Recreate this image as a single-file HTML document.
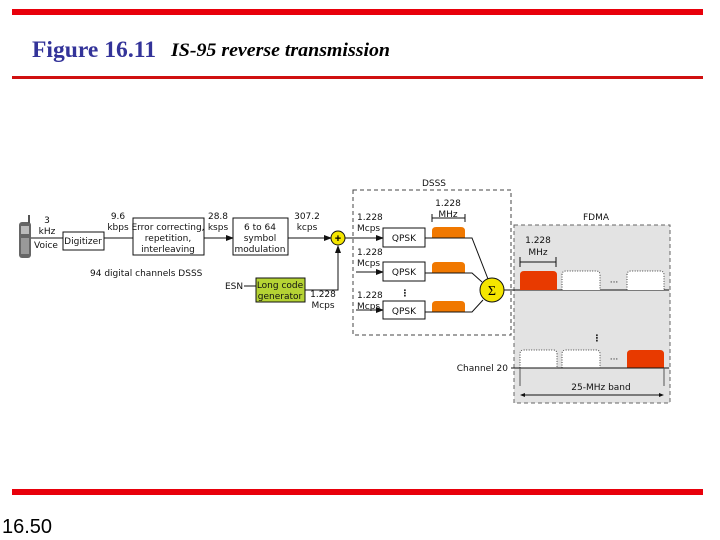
<!DOCTYPE html>
<html><head><meta charset="utf-8"><style>
html,body{margin:0;padding:0;background:#fff;width:720px;height:540px;overflow:hidden}
svg{display:block}
.t{font-family:"DejaVu Sans","Liberation Sans",sans-serif;font-size:9px;fill:#111}
</style></head><body>
<svg width="720" height="540" viewBox="0 0 720 540" xmlns="http://www.w3.org/2000/svg">
<defs><marker id="a" markerWidth="8" markerHeight="6" refX="7" refY="3" orient="auto"><path d="M0,0L8,3L0,6z" fill="#111"/></marker></defs>
<rect x="12" y="9" width="691" height="6" fill="#e8000b"/>
<rect x="12" y="76" width="691" height="3" fill="#d01010"/>
<rect x="12" y="489" width="691" height="6" fill="#e8000b"/>
<text x="32" y="57" font-family="Liberation Serif,serif" font-size="23" font-weight="bold" fill="#333399" textLength="124" lengthAdjust="spacingAndGlyphs">Figure 16.11</text>
<text x="171" y="56" font-family="Liberation Serif,serif" font-size="19" font-style="italic" font-weight="bold" fill="#000" textLength="219" lengthAdjust="spacingAndGlyphs">IS-95 reverse transmission</text>
<text x="2" y="533" font-family="Liberation Sans,sans-serif" font-size="20" fill="#000">16.50</text>

<rect x="514" y="225" width="156" height="178" fill="#e3e3e3" stroke="#666" stroke-dasharray="4,3"/>
<rect x="353" y="190" width="158" height="145" fill="none" stroke="#444" stroke-dasharray="4,3"/>
<text class="t" x="434" y="186" text-anchor="middle">DSSS</text>
<text class="t" x="596" y="220" text-anchor="middle" font-size="10">FDMA</text>

<rect x="19" y="222" width="12" height="36" rx="3" fill="#666"/>
<rect x="21" y="226" width="8" height="8" fill="#bbb"/>
<rect x="21" y="238" width="8" height="16" fill="#999"/>
<rect x="28" y="215" width="2" height="8" fill="#555"/>
<line x1="31" y1="238" x2="63" y2="238" stroke="#111"/>
<text class="t" x="47" y="223" text-anchor="middle">3</text>
<text class="t" x="47" y="234" text-anchor="middle">kHz</text>
<text class="t" x="46" y="248" text-anchor="middle">Voice</text>
<rect x="63" y="232" width="41" height="18" fill="#fff" stroke="#111"/>
<text class="t" x="83" y="244" text-anchor="middle">Digitizer</text>
<line x1="104" y1="238" x2="133" y2="238" stroke="#111"/>
<text class="t" x="118" y="219" text-anchor="middle">9.6</text>
<text class="t" x="118" y="230" text-anchor="middle">kbps</text>
<rect x="133" y="218" width="71" height="37" fill="#fff" stroke="#111"/>
<text class="t" x="168" y="230" text-anchor="middle">Error correcting,</text>
<text class="t" x="168" y="241" text-anchor="middle">repetition,</text>
<text class="t" x="168" y="252" text-anchor="middle">interleaving</text>
<line x1="204" y1="238" x2="233" y2="238" stroke="#111" marker-end="url(#a)"/>
<text class="t" x="218" y="219" text-anchor="middle">28.8</text>
<text class="t" x="218" y="230" text-anchor="middle">ksps</text>
<rect x="233" y="218" width="55" height="37" fill="#fff" stroke="#111"/>
<text class="t" x="260" y="230" text-anchor="middle">6 to 64</text>
<text class="t" x="260" y="241" text-anchor="middle">symbol</text>
<text class="t" x="260" y="252" text-anchor="middle">modulation</text>
<line x1="288" y1="238" x2="331" y2="238" stroke="#111" marker-end="url(#a)"/>
<text class="t" x="307" y="219" text-anchor="middle">307.2</text>
<text class="t" x="307" y="230" text-anchor="middle">kcps</text>
<circle cx="338" cy="238" r="7" fill="#f5e600" stroke="#111"/>
<text x="338" y="242" text-anchor="middle" font-family="Liberation Sans,sans-serif" font-size="11" font-weight="bold">+</text>
<text class="t" x="90" y="276">94 digital channels DSSS</text>
<text class="t" x="225" y="289">ESN</text>
<line x1="244" y1="286" x2="256" y2="286" stroke="#111"/>
<rect x="256" y="278" width="49" height="24" fill="#b5d334" stroke="#111"/>
<text class="t" x="280" y="288" text-anchor="middle">Long code</text>
<text class="t" x="280" y="299" text-anchor="middle">generator</text>
<polyline points="305,290 338,290 338,246" fill="none" stroke="#111" marker-end="url(#a)"/>
<text class="t" x="323" y="297" text-anchor="middle">1.228</text>
<text class="t" x="323" y="308" text-anchor="middle">Mcps</text>

<line x1="345" y1="238" x2="383" y2="238" stroke="#111" marker-end="url(#a)"/>
<line x1="356" y1="272" x2="383" y2="272" stroke="#111" marker-end="url(#a)"/>
<line x1="356" y1="310" x2="383" y2="310" stroke="#111" marker-end="url(#a)"/>
<text class="t" x="357" y="220">1.228</text><text class="t" x="357" y="231">Mcps</text>
<text class="t" x="357" y="255">1.228</text><text class="t" x="357" y="266">Mcps</text>
<text class="t" x="357" y="298">1.228</text><text class="t" x="357" y="309">Mcps</text>
<rect x="383" y="228" width="42" height="19" fill="#fff" stroke="#111"/>
<rect x="383" y="262" width="42" height="19" fill="#fff" stroke="#111"/>
<rect x="383" y="301" width="42" height="18" fill="#fff" stroke="#111"/>
<text class="t" x="404" y="241" text-anchor="middle">QPSK</text>
<text class="t" x="404" y="275" text-anchor="middle">QPSK</text>
<text class="t" x="404" y="314" text-anchor="middle">QPSK</text>
<text class="t" x="405" y="296" text-anchor="middle" font-weight="bold">⋮</text>
<g fill="#f07800">
<path d="M432,238V231Q432,227 436,227H461Q465,227 465,231V238Z"/>
<path d="M432,273V266Q432,262 436,262H461Q465,262 465,266V273Z"/>
<path d="M432,312V305Q432,301 436,301H461Q465,301 465,305V312Z"/>
</g>
<g stroke="#111" fill="none">
<polyline points="425,238 472,238 488,279"/>
<polyline points="425,273 472,273 482,282"/>
<polyline points="425,312 472,312 483,300"/>
<line x1="432" y1="218" x2="465" y2="218"/><line x1="432" y1="214" x2="432" y2="222"/><line x1="465" y1="214" x2="465" y2="222"/>
</g>
<text class="t" x="448" y="206" text-anchor="middle">1.228</text>
<text class="t" x="448" y="217" text-anchor="middle">MHz</text>
<circle cx="492" cy="290" r="12" fill="#f5e600" stroke="#111"/>
<text x="492" y="295" text-anchor="middle" font-family="Liberation Serif,serif" font-size="14">Σ</text>
<line x1="504" y1="290" x2="669" y2="290" stroke="#111"/>

<path d="M520,290V275Q520,271 524,271H553Q557,271 557,275V290Z" fill="#e83a00"/>
<path d="M562,290V275Q562,271 566,271H596Q600,271 600,275V290" fill="#fff" stroke="#444" stroke-dasharray="1,1.5"/>
<path d="M627,290V275Q627,271 631,271H660Q664,271 664,275V290" fill="#fff" stroke="#444" stroke-dasharray="1,1.5"/>
<text class="t" x="614" y="285" text-anchor="middle">···</text>
<g stroke="#111"><line x1="520" y1="262" x2="556" y2="262"/><line x1="520" y1="257" x2="520" y2="267"/><line x1="556" y1="257" x2="556" y2="267"/></g>
<text class="t" x="538" y="243" text-anchor="middle">1.228</text>
<text class="t" x="538" y="255" text-anchor="middle">MHz</text>
<text class="t" x="597" y="341" text-anchor="middle" font-weight="bold">⋮</text>
<path d="M520,368V354Q520,350 524,350H553Q557,350 557,354V368" fill="#fff" stroke="#444" stroke-dasharray="1,1.5"/>
<path d="M562,368V354Q562,350 566,350H596Q600,350 600,354V368" fill="#fff" stroke="#444" stroke-dasharray="1,1.5"/>
<path d="M627,368V354Q627,350 631,350H660Q664,350 664,354V368Z" fill="#e83a00"/>
<text class="t" x="614" y="362" text-anchor="middle">···</text>
<line x1="511" y1="368" x2="669" y2="368" stroke="#111"/>
<text class="t" x="508" y="371" text-anchor="end">Channel 20</text>
<g stroke="#555"><line x1="520" y1="368" x2="520" y2="386"/><line x1="664" y1="368" x2="664" y2="386"/></g>
<line x1="522" y1="395" x2="662" y2="395" stroke="#111"/>
<path d="M520,395l5,-2v4z M664,395l-5,-2v4z" fill="#111"/>
<text class="t" x="601" y="390" text-anchor="middle">25-MHz band</text>
</svg>
</body></html>
